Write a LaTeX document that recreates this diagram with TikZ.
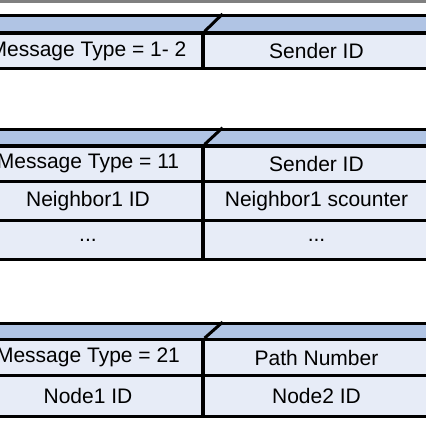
\documentclass[tikz,border=0pt]{standalone}
\usepackage{fontspec}
\setmainfont{Liberation Sans}
\definecolor{hdrblue}{RGB}{176,196,228}
\definecolor{cellblue}{RGB}{231,236,247}
\definecolor{topgray}{RGB}{128,128,128}
\begin{document}
\begin{tikzpicture}[x=1pt,y=-1pt,
  border/.style={draw=black, line width=3.2pt},
  cellbox/.style={border, fill=cellblue, inner sep=0pt, anchor=center,
    font=\fontsize{21}{25}\selectfont},
  leftcell/.style={cellbox, minimum width=230pt},
  rightcell/.style={cellbox, minimum width=227pt},
  hdrstrip/.style={border, fill=hdrblue},
  slant/.style={draw=black, line width=3pt}]
\useasboundingbox (0,0) rectangle (426,426);
\clip (0,0) rectangle (426,426);
\fill[topgray] (0,0) rectangle (426,2.5);

% Table 1
\draw[hdrstrip] (-40,15.5) rectangle (450,33);
\node[leftcell, minimum height=35.8pt] (t1a) at (88,50.9) {Message Type = 1- 2};
\node[rightcell, minimum height=35.8pt] (t1b) at (316.5,50.9) {Sender ID};
\draw[slant] (t1a.north east) -- ++(18,-17.5);

% Table 2
\draw[hdrstrip] (-40,129.3) rectangle (450,146);
\node[leftcell, minimum height=35.5pt] (t2a) at (88,163.75) {Message Type = 11};
\node[rightcell, minimum height=35.5pt] (t2b) at (316.5,163.75) {Sender ID};
\node[leftcell, minimum height=39pt] (t2c) at (88,201) {Neighbor1 ID};
\node[rightcell, minimum height=39pt] (t2d) at (316.5,201) {Neighbor1 scounter};
\node[leftcell, minimum height=39pt] (t2e) at (88,240) {...};
\node[rightcell, minimum height=39pt] (t2f) at (316.5,240) {...};
\draw[slant] (t2a.north east) -- ++(18,-16.7);

% Table 3
\draw[hdrstrip] (-40,323.7) rectangle (450,339.7);
\node[leftcell, minimum height=35.6pt] (t3a) at (88,357.5) {Message Type = 21};
\node[rightcell, minimum height=35.6pt] (t3b) at (316.5,357.5) {Path Number};
\node[leftcell, minimum height=41pt] (t3c) at (88,395.8) {Node1 ID};
\node[rightcell, minimum height=41pt] (t3d) at (316.5,395.8) {Node2 ID};
\draw[slant] (t3a.north east) -- ++(18,-16);
\end{tikzpicture}
\end{document}
